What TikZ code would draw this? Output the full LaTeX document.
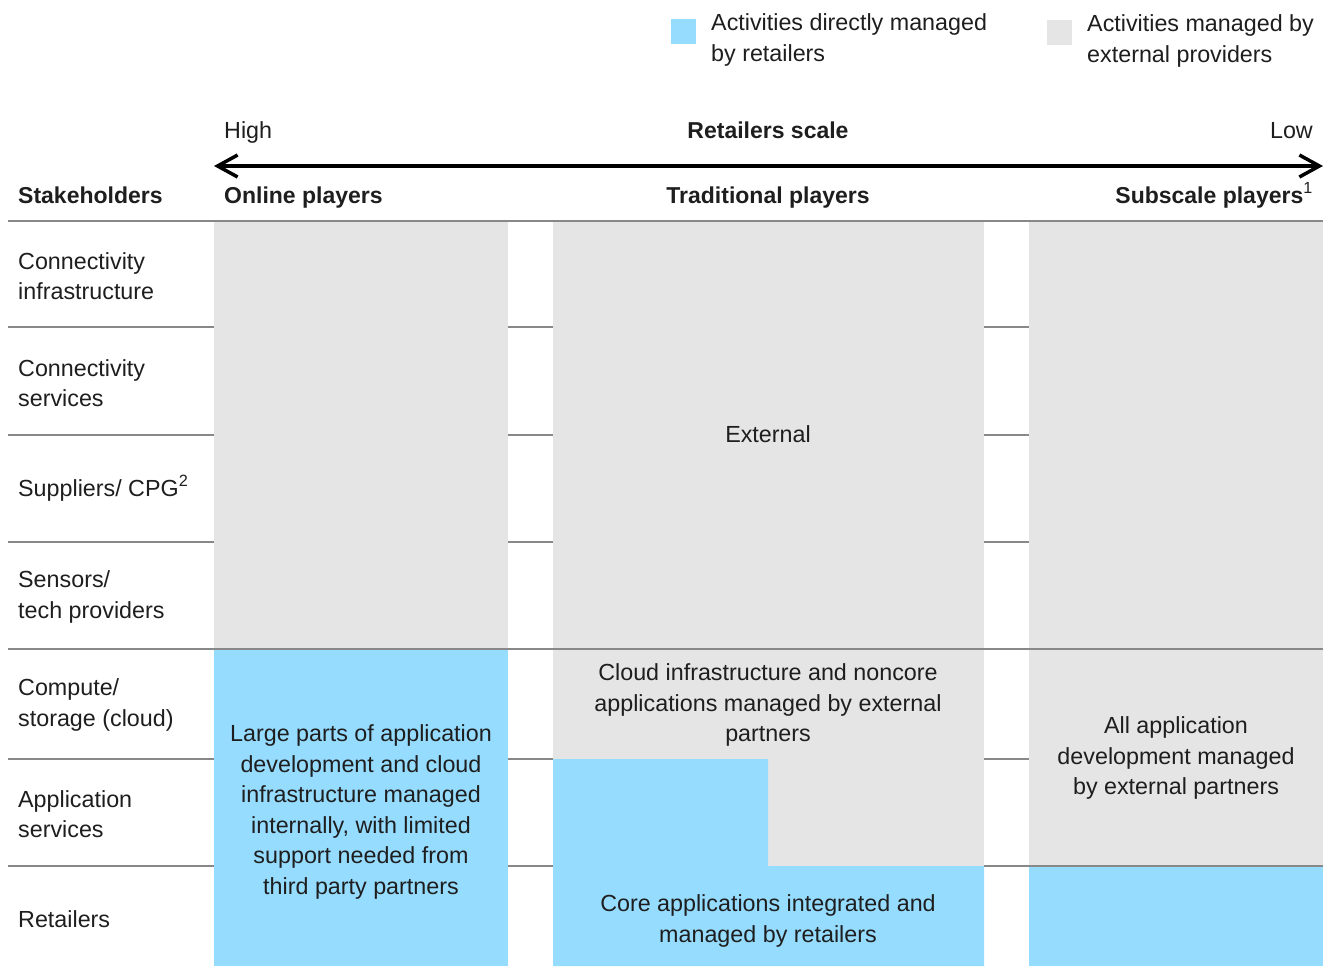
\documentclass[tikz,border=0pt]{standalone}
\usepackage{fontspec}
\setmainfont{Liberation Sans}
\usetikzlibrary{arrows.meta, positioning}
\definecolor{retailblue}{RGB}{150,220,255}
\definecolor{extgray}{RGB}{229,229,229}
\definecolor{rulegray}{RGB}{136,136,136}
\definecolor{inkdark}{RGB}{30,30,30}

\begin{document}
\begin{tikzpicture}[x=1pt,y=-1pt,
      font=\fontsize{23.3}{30.5}\selectfont,text=inkdark,
      lbl/.style={anchor=west,align=left,inner sep=0pt},
      hdr/.style={inner sep=0pt,font=\fontsize{23}{30.5}\selectfont\bfseries},
      oneline/.style={text height=17pt,text depth=5pt},
      cell/.style={align=center,inner sep=0pt},
      rule/.style={draw=rulegray,line width=2pt},
      swatch/.style={minimum size=25pt,inner sep=0pt}]
    \useasboundingbox (0,0) rectangle (1327,966);
    % row rules (behind the columns)
    \foreach \ry in {327,435,542,759,866}
      \draw[rule] (8,\ry) -- (1323,\ry);
    % columns
    \fill[extgray] (214,221) rectangle (508,649);
    \fill[retailblue] (214,649) rectangle (508,966);
    \fill[extgray] (553,221) rectangle (984,866);
    \fill[retailblue] (553,759) -- (768,759) -- (768,866) -- (984,866)
      -- (984,966) -- (553,966) -- cycle;
    \fill[extgray] (1029,221) rectangle (1323,866);
    \fill[retailblue] (1029,866) rectangle (1323,966);
    \draw[rule] (8,221) -- (1323,221);
    \draw[rule] (8,649) -- (1323,649);
    \draw[rule] (984,866) -- (1323,866);
    % legend
    \node[swatch,fill=retailblue] (swin) at (683.5,31.5) {};
    \node[lbl] (legin) at (711,40) {Activities directly managed\\by retailers};
    \node[swatch,fill=extgray] (swext) at (1059.5,32.5) {};
    \node[lbl] (legext) at (1087,41) {Activities managed by\\external providers};
    % scale
    \node[lbl,oneline] (high) at (224,132) {High};
    \node[hdr,oneline] (scale) at (768,132) {Retailers scale};
    \node[lbl,oneline,anchor=east] (low) at (1313,132) {Low};
    \coordinate (hi) at (214,166);
    \coordinate (lo) at (1323,166);
    \draw[line width=3.5pt,{Straight Barb[length=20pt,width=22pt]}-{Straight Barb[length=20pt,width=22pt]}] (hi) -- (lo);
    % headers
    \node[hdr,oneline,anchor=west] (stake) at (18,197) {Stakeholders};
    \node[hdr,oneline,anchor=west] (online) at (224,197) {Online players};
    \node[hdr,oneline] (trad) at (768,197) {Traditional players};
    \node[hdr,oneline,anchor=east] (subs) at (1313,197) {Subscale players\textsuperscript{\mdseries 1}};
    % stakeholders
    \node[lbl] (conninf) at (18,276) {Connectivity\\infrastructure};
    \node[lbl] (connsrv) at (18,383) {Connectivity\\services};
    \node[lbl,oneline] (suppl) at (18,490) {Suppliers/ CPG\textsuperscript{2}};
    \node[lbl] (sensor) at (18,597) {Sensors/\\tech providers};
    \node[lbl] (compute) at (18,705) {Compute/\\storage (cloud)};
    \node[lbl] (appsrv) at (18,814) {Application\\services};
    \node[lbl,oneline] (retail) at (18,921) {Retailers};
    % cell texts
    \node[cell] (onlinetxt) at (361,812) {Large parts of application\\development and cloud\\infrastructure managed\\internally, with limited\\support needed from\\third party partners};
    \node[cell,oneline] (external) at (768,436) {External};
    \node[cell] (cloudtxt) at (768,705) {Cloud infrastructure and noncore\\applications managed by external\\partners};
    \node[cell] (coretxt) at (768,921) {Core applications integrated and\\managed by retailers};
    \node[cell] (subtxt) at (1176,758) {All application\\development managed\\by external partners};
  \end{tikzpicture}
\end{document}
